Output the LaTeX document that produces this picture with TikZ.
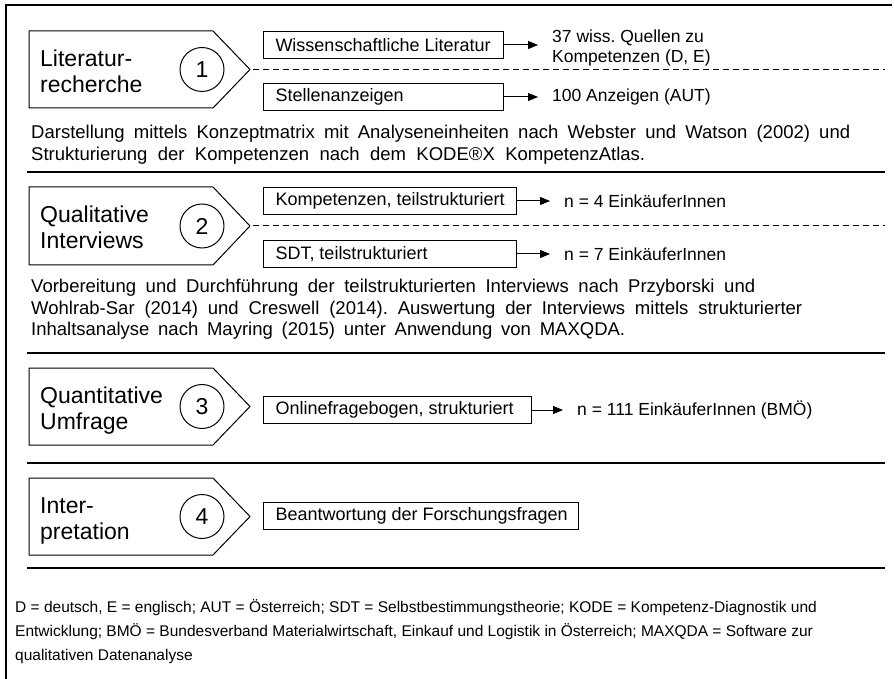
\documentclass[tikz,border=0pt]{standalone}
\usepackage{fontspec}
\setmainfont{Liberation Sans}
\usetikzlibrary{arrows.meta}
\frenchspacing
\newcommand\fsz[2]{\fontsize{#1}{#2}\selectfont}
% a text line spread to a given width
\newcommand\linew[2]{\makebox[#1][s]{#2}}
% a left-aligned label of fixed width inside a box
\newcommand\boxw[2]{\makebox[#1][l]{#2}}

\begin{document}
\begin{tikzpicture}[x=1pt,y=-1pt,
  rule/.style={line width=1.3pt},
  stage/.style={draw, line width=1pt},
  numcircle/.style={circle, draw, line width=1pt, minimum size=44pt, inner sep=0pt, font=\fsz{23}{26}},
  infobox/.style={draw, line width=1pt, anchor=north west, minimum height=27pt,
                  inner xsep=12pt, inner ysep=0pt, font=\fsz{18}{20}},
  stagetext/.style={anchor=base west, inner sep=0pt, font=\fsz{23}{26}},
  result/.style={anchor=west, inner sep=0pt, align=left, font=\fsz{17.5}{19.5}},
  para/.style={anchor=base west, inner sep=0pt, font=\fsz{18.5}{22}},
  note/.style={anchor=base west, inner sep=0pt, font=\fsz{15.5}{18}},
  arr/.style={line width=1pt, -{Triangle[length=10pt,width=8pt]}, shorten >=14pt},
  sep/.style={line width=1pt, dash pattern=on 6pt off 4pt}
]
\useasboundingbox (0,0) rectangle (895,679);

% outer frame (top and left edge)
\draw[rule] (6,679) -- (6,5) -- (892,5);

% stage arrows (pentagons)
\foreach \t/\b in {31/108,187/265,368/445,478/555}
  \draw[stage] (29,\t) -- (213,\t) -- (250,{(\t+\b)/2}) -- (213,\b) -- (29,\b) -- cycle;

% stage numbers
\node[numcircle] (c1) at (202,69.5) {1};
\node[numcircle] (c2) at (202,226) {2};
\node[numcircle] (c3) at (202,406.5) {3};
\node[numcircle] (c4) at (202,516.5) {4};

% stage titles
\node[stagetext] (s1a) at (40,66.5) {Literatur-};
\node[stagetext] (s1b) at (40,92.5) {recherche};
\node[stagetext] (s2a) at (40,223) {Qualitative};
\node[stagetext] (s2b) at (40,249) {Interviews};
\node[stagetext] (s3a) at (40,403.5) {Quantitative};
\node[stagetext] (s3b) at (40,429.5) {Umfrage};
\node[stagetext] (s4a) at (40,513.5) {Inter-};
\node[stagetext] (s4b) at (40,539.5) {pretation};

% separators
\draw[sep] (253,69.5) -- (885,69.5);
\draw[sep] (253,226) -- (885,226);
\draw[rule] (27,172) -- (885,172);
\draw[rule] (27,353) -- (885,353);
\draw[rule] (27,463) -- (885,463);
\draw[rule] (27,568) -- (885,568);

% stage 1
\node[infobox] (r1) at (263,31) {\boxw{216pt}{Wissenschaftliche Literatur}};
\node[infobox] (r2) at (263,83) {\boxw{216pt}{Stellenanzeigen}};
\node[result] (q1) at (552,48) {37 wiss. Quellen zu\\Kompetenzen (D, E)};
\node[result] (q2) at (552,96.5) {100 Anzeigen (AUT)};
\draw[arr] (r1.east) -- (r1.east -| q1.west);
\draw[arr] (r2.east) -- (r2.east -| q2.west);
\node[para] (p1a) at (31,139) {\linew{819pt}{Darstellung mittels Konzeptmatrix mit Analyseneinheiten nach Webster und Watson (2002) und}};
\node[para] (p1b) at (31,161) {\linew{614pt}{Strukturierung der Kompetenzen nach dem KODE®X KompetenzAtlas.}};

% stage 2
\node[infobox] (r3) at (263,187) {\boxw{229pt}{Kompetenzen, teilstrukturiert}};
\node[infobox] (r4) at (263,240) {\boxw{229pt}{SDT, teilstrukturiert}};
\node[result] (q3) at (564,201) {n = 4 EinkäuferInnen};
\node[result] (q4) at (564,254) {n = 7 EinkäuferInnen};
\draw[arr] (r3.east) -- (r3.east -| q3.west);
\draw[arr] (r4.east) -- (r4.east -| q4.west);
\node[para] (p2a) at (31,293) {\linew{724pt}{Vorbereitung und Durchführung der teilstrukturierten Interviews nach Przyborski und}};
\node[para] (p2b) at (31,314.5) {\linew{771pt}{Wohlrab-Sar (2014) und Creswell (2014). Auswertung der Interviews mittels strukturierter}};
\node[para] (p2c) at (31,336) {\linew{594pt}{Inhaltsanalyse nach Mayring (2015) unter Anwendung von MAXQDA.}};

% stage 3
\node[infobox] (r5) at (263,396) {\boxw{244pt}{Onlinefragebogen, strukturiert}};
\node[result] (q5) at (577,409.5) {n = 111 EinkäuferInnen (BMÖ)};
\draw[arr] (r5.east) -- (r5.east -| q5.west);

% stage 4
\node[infobox] (r6) at (263,502) {\boxw{291pt}{Beantwortung der Forschungsfragen}};

% abbreviations
\node[note] (n1) at (15,612) {D = deutsch, E = englisch; AUT = Österreich; SDT = Selbstbestimmungstheorie; KODE = Kompetenz-Diagnostik und};
\node[note] (n2) at (15,636) {Entwicklung; BMÖ = Bundesverband Materialwirtschaft, Einkauf und Logistik in Österreich; MAXQDA = Software zur};
\node[note] (n3) at (15,660) {qualitativen Datenanalyse};
\end{tikzpicture}
\end{document}
